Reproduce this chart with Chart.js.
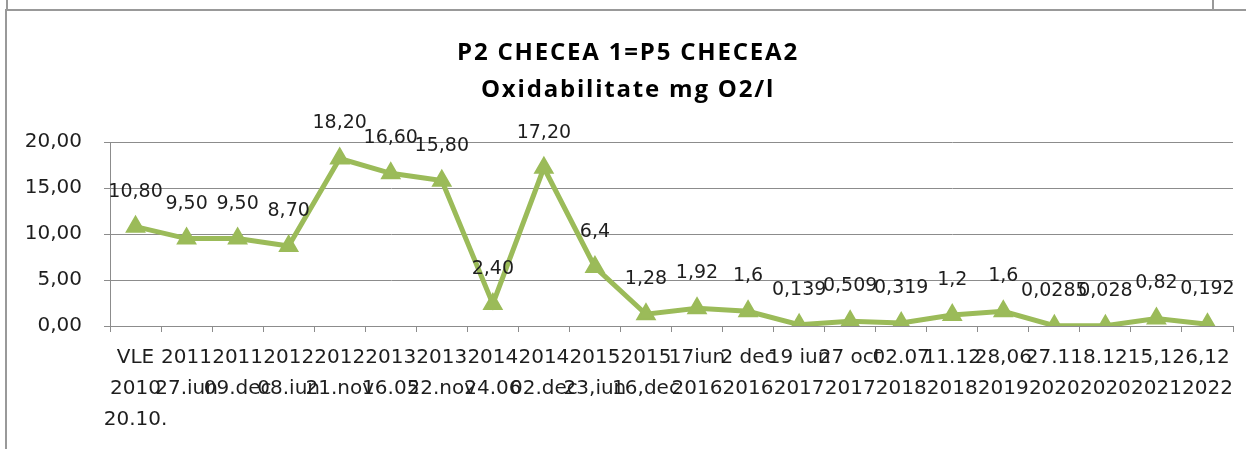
<!DOCTYPE html>
<html>
<head>
<meta charset="utf-8">
<script src="https://cdn.jsdelivr.net/npm/chart.js@4.4.1/dist/chart.umd.min.js"></script>
<style>
  html, body { margin: 0; padding: 0; background: #fff; }
  #wrap { position: relative; width: 1246px; height: 449px; overflow: hidden; }
  #chart { position: absolute; left: 0; top: 0; }
  .line { position: absolute; background: #999; }
  .title {
    position: absolute; left: 378px; width: 500px; text-align: center;
    font-family: "Open Sans", sans-serif; font-weight: 700; font-size: 24px;
    letter-spacing: 1.8px; line-height: 38px; color: #000; white-space: nowrap;
  }
</style>
</head>
<body>
<div id="wrap">
  <canvas id="chart" width="1246" height="449"></canvas>
  <div class="line" style="left:6px; top:0; width:2px; height:10px;"></div>
  <div class="line" style="left:1212px; top:0; width:2px; height:10px;"></div>
  <div class="line" style="left:5px; top:9px; width:1241px; height:2px;"></div>
  <div class="line" style="left:5px; top:9px; width:2px; height:440px;"></div>
  <div class="title" id="title1" style="top:32px;"></div>
  <div class="title" id="title2" style="top:69px;"></div>
</div>
<script>
// categories (dates of sampling)
const categories = [
    ["VLE", "2010", "20.10."],
    ["2011", "27.iun"],
    ["2011", "09.dec"],
    ["2012", "08.iun"],
    ["2012", "21.nov"],
    ["2013", "16.05"],
    ["2013", "22.nov"],
    ["2014", "24.06"],
    ["2014", "02.dec"],
    ["2015", "23,iun"],
    ["2015", "16,dec"],
    ["17iun", "2016"],
    ["2 dec", "2016"],
    ["19 iun", "2017"],
    ["27 oct", "2017"],
    ["02.07", "2018"],
    ["11.12", "2018"],
    ["28,06", "2019"],
    ["27.11", "2020"],
    ["8.12", "2020"],
    ["15,12", "2021"],
    ["6,12", "2022"]
];

// oxidabilitate values mg O2/l
const values = [10.8, 9.5, 9.5, 8.7, 18.2, 16.6, 15.8, 2.4, 17.2, 6.4, 1.28, 1.92, 1.6,
    0.139, 0.509, 0.319, 1.2, 1.6, 0.0285, 0.028, 0.82, 0.192];

// labels shown above the points, as written in the original sheet
const valueLabels = ["10,80", "9,50", "9,50", "8,70", "18,20", "16,60", "15,80", "2,40", "17,20", "6,4",
    "1,28", "1,92", "1,6", "0,139", "0,509", "0,319", "1,2", "1,6", "0,0285", "0,028", "0,82", "0,192"];

const yTicks = [0, 5, 10, 15, 20];

const titleLines = ["P2 CHECEA 1=P5 CHECEA2", "Oxidabilitate mg O2/l"];

const green = '#9bbb59';
const gridGray = '#8c8c8c';
const textColor = '#1e1e1e';
const fontFamily = '"DejaVu Sans", sans-serif';

document.getElementById('title1').textContent = titleLines[0];
document.getElementById('title2').textContent = titleLines[1];

// draws the value labels above every point
const valueLabelPlugin = {
    id: 'valueLabels',
    afterDatasetsDraw(chart) {
        const ctx = chart.ctx;
        const meta = chart.getDatasetMeta(0);
        ctx.save();
        ctx.font = '19px ' + fontFamily;
        ctx.fillStyle = textColor;
        ctx.textAlign = 'center';
        ctx.textBaseline = 'middle';
        for (let i = 0; i < meta.data.length; i++) {
            const pt = meta.data[i];
            ctx.fillText(valueLabels[i], pt.x, pt.y - 35);
        }
        ctx.restore();
    }
};

const ctx = document.getElementById('chart').getContext('2d');

const myChart = new Chart(ctx, {
    type: 'line',
    data: {
        labels: categories,
        datasets: [{
            data: values,
            borderColor: green,
            backgroundColor: green,
            borderWidth: 5,
            pointStyle: 'triangle',
            pointRadius: 10,
            pointBorderWidth: 2,
            pointBackgroundColor: green,
            pointBorderColor: green,
            tension: 0
        }]
    },
    options: {
        responsive: false,
        animation: false,
        layout: {
            // title is drawn in html, this leaves room for it
            padding: { left: 0, right: 13, top: 142, bottom: 0 }
        },
        plugins: {
            legend: { display: false },
            tooltip: { enabled: false },
            title: { display: false }
        },
        scales: {
            x: {
                offset: true,
                grid: {
                    offset: true,
                    drawOnChartArea: false,
                    drawTicks: true,
                    tickLength: 6,
                    color: gridGray
                },
                border: { display: true, color: gridGray },
                ticks: {
                    autoSkip: false,
                    maxRotation: 0,
                    minRotation: 0,
                    padding: 10,
                    color: textColor,
                    font: { family: fontFamily, size: 20, lineHeight: 1.55 }
                },
                afterFit(scale) {
                    scale.height = 123;
                }
            },
            y: {
                min: 0,
                max: 20,
                afterBuildTicks(scale) {
                    scale.ticks = yTicks.map(v => ({ value: v }));
                },
                grid: {
                    color: gridGray,
                    drawTicks: true,
                    tickLength: 6
                },
                border: { display: true, color: gridGray },
                ticks: {
                    padding: 22,
                    color: textColor,
                    font: { family: fontFamily, size: 20 },
                    callback: v => v.toFixed(2).replace('.', ',')
                },
                afterFit(scale) {
                    scale.width = 110;
                }
            }
        }
    },
    plugins: [valueLabelPlugin]
});
</script>
</body>
</html>
